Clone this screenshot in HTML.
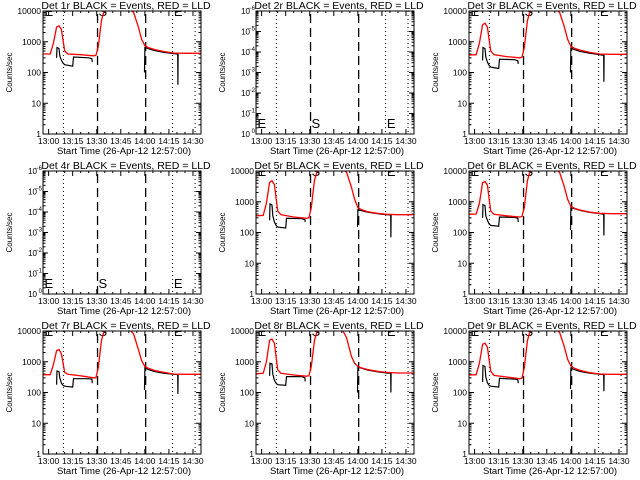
<!DOCTYPE html>
<html><head><meta charset="utf-8">
<style>
html,body{margin:0;padding:0;background:#fff;}
svg{display:block;font-family:"Liberation Sans",sans-serif;}
</style></head>
<body>
<svg id="chart" width="640" height="480" viewBox="0 0 640 480" xmlns="http://www.w3.org/2000/svg"></svg>
<script>
// ---- data ----
const detectorNames = ["1r","2r","3r","4r","5r","6r","7r","8r","9r"];
const xTickMinutes = [0,15,30,45,60,75,90];
const xTickLabels = ["13:00","13:15","13:30","13:45","14:00","14:15","14:30"];
const yTickValuesA = [1,10,100,1000,10000];
const yTickLabelsA = ["1","10","100","1000","10000"];
const yTickExpB = [0,-1,-2,-3,-4,-5,-6];
const dottedMinutes = [9.2,77.3,91.3];
const dashedMinutes = [30.5,60.5];
const redTimes = [-3.5,1,3,5,6.5,8,10,12,20,28,29.5,31,33,35,50,53,56,58,60,62,66,72,78,85,95];
const red1 = [400,400,900,3000,3300,2500,500,400,380,350,360,700,5000,12000,12000,9000,3000,1200,750,650,560,480,430,420,420];
const red3 = [370,380,900,3600,4000,3000,500,380,330,300,310,650,5000,12000,12000,9000,3000,1200,700,620,530,450,400,390,390];
const red5 = [350,360,900,4300,4800,3600,500,380,320,290,300,650,5000,12000,12000,9000,3000,1200,650,560,480,420,390,380,380];
const red6 = [390,400,900,4200,4500,3500,500,390,350,320,330,650,5000,12000,12000,9000,3000,1200,700,620,530,460,420,410,410];
const red7 = [380,380,800,2300,2500,1800,450,390,350,300,300,650,5000,12000,12000,8000,2500,1100,700,620,520,450,400,390,390];
const red8 = [410,420,1000,5000,5500,4000,550,420,370,340,350,700,5000,12000,12000,6000,1500,900,700,640,560,490,450,430,430];
const red9 = [370,380,900,3700,4000,3000,500,360,320,280,290,650,5000,12000,12000,9000,3000,1200,720,620,520,440,400,390,390];
const blackTimes = [5,5.2,6.5,7,8,9,10,15,15.5,25,27,27.2,null,59.8,60,62,66,72,78,80.5,80.6,80.7,81];
const black1 = [300,650,600,350,250,200,180,160,320,300,280,220,null,100,650,600,520,450,410,400,40,400,400];
const black3 = [250,650,600,320,220,170,150,135,270,260,240,190,null,100,620,560,480,420,380,360,50,360,360];
const black5 = [250,850,780,350,220,170,150,140,290,280,260,220,null,150,560,520,460,410,380,370,70,370,370];
const black6 = [300,800,750,350,250,190,170,160,320,310,290,220,null,120,650,600,520,450,410,390,80,390,390];
const black7 = [180,500,480,300,200,170,160,150,280,280,270,200,null,120,650,560,480,420,390,380,90,380,380];
const black8 = [350,900,850,400,250,200,180,170,330,330,300,230,null,100,680,620,540,470,430,420,100,420,420];
const black9 = [220,750,700,320,210,170,160,150,290,270,260,200,null,130,620,560,480,420,390,380,110,380,380];
const redSeries = [red1,null,red3,null,red5,red6,red7,red8,red9];
const blackSeries = [black1,null,black3,null,black5,black6,black7,black8,black9];

// ---- drawing ----
const NS="http://www.w3.org/2000/svg";
const svg=document.getElementById('chart');
function mk(tag,attrs,parent){const e=document.createElementNS(NS,tag);for(const k in attrs)e.setAttribute(k,attrs[k]);(parent||svg).appendChild(e);return e;}
const W=158,H=123,XMIN=-3.5,XMAX=95;
for(let p=0;p<9;p++){
  const col=p%3,row=Math.floor(p/3);
  const L=43+col*213,T=11+row*160;
  const empty = redSeries[p]===null;
  const g=mk('g',{});
  
  
  const xs=m=>L+(m-XMIN)/(XMAX-XMIN)*W;
  const ys = v=>T+H-Math.log10(v)/4*H;
  const cid='clip'+p;
  const cp=mk('clipPath',{id:cid},g);mk('rect',{x:L,y:T,width:W,height:H},cp);
  const t=mk('text',{x:L+W/2+4,y:T-2,'font-size':'10.5','text-anchor':'middle'},g);
  t.textContent='Det '+detectorNames[p]+' BLACK = Events, RED = LLD';
  
  
  const yt=mk('text',{x:0,y:0,'font-size':'8','text-anchor':'middle',transform:`translate(${L-31},${T+H/2}) rotate(-90)`},g);
  yt.textContent='Counts/sec';
  
  
  const xt=mk('text',{x:L+W/2+2,y:T+H+20,'font-size':'9.5','text-anchor':'middle'},g);
  xt.textContent='Start Time (26-Apr-12 12:57:00)';
  
  
  xTickMinutes.forEach((m,i)=>{
    const x=xs(m);
    mk('line',{x1:x,y1:T+H,x2:x,y2:T+H-5,stroke:'#000'},g);
    mk('line',{x1:x,y1:T,x2:x,y2:T+5,stroke:'#000'},g);
    const lb=mk('text',{x:x,y:T+H+10,'font-size':'8.5','text-anchor':'middle'},g);
    lb.textContent=xTickLabels[i];
    
    
  });
  for(let m=0;m<=95;m+=5){if(m%15){const x=xs(m);mk('line',{x1:x,y1:T+H,x2:x,y2:T+H-2,stroke:'#000'},g);mk('line',{x1:x,y1:T,x2:x,y2:T+2,stroke:'#000'},g);}}
  if(!empty){
    yTickValuesA.forEach((v,i)=>{
      const y=ys(v);
      mk('line',{x1:L,y1:y,x2:L+5,y2:y,stroke:'#000'},g);
      mk('line',{x1:L+W,y1:y,x2:L+W-5,y2:y,stroke:'#000'},g);
      const lb=mk('text',{x:L-2,y:y+3,'font-size':'8.5','text-anchor':'end'},g);
      lb.textContent=yTickLabelsA[i];
      
      
      if(i<yTickValuesA.length-1)for(let k=2;k<10;k++){const yy=ys(v*k);mk('line',{x1:L,y1:yy,x2:L+2.5,y2:yy,stroke:'#000'},g);mk('line',{x1:L+W,y1:yy,x2:L+W-2.5,y2:yy,stroke:'#000'},g);}
    });
  } else {
    yTickExpB.forEach((e,i)=>{
      const y=T+H-i/6*H;
      mk('line',{x1:L,y1:y,x2:L+5,y2:y,stroke:'#000'},g);
      mk('line',{x1:L+W,y1:y,x2:L+W-5,y2:y,stroke:'#000'},g);
      const lb=mk('text',{x:L-6,y:y+3,'font-size':'8','text-anchor':'end'},g);
      lb.textContent='10';
      
      
      const sp=mk('text',{x:L-1,y:y-1,'font-size':'6','text-anchor':'end'},g);
      sp.textContent=(e<0?'\u2212':'')+Math.abs(e);
      
      
      if(i<yTickExpB.length-1)for(let k=2;k<10;k++){const yy=y-Math.log10(k)*H/6;mk('line',{x1:L,y1:yy,x2:L+2.5,y2:yy,stroke:'#000'},g);mk('line',{x1:L+W,y1:yy,x2:L+W-2.5,y2:yy,stroke:'#000'},g);}
    });
  }
  dottedMinutes.forEach(m=>{const l=mk('line',{x1:xs(m),y1:T,x2:xs(m),y2:T+H,stroke:'#000','stroke-dasharray':'1,3'},g);});
  dashedMinutes.forEach(m=>{const l=mk('line',{x1:xs(m),y1:T+3,x2:xs(m),y2:T+H,stroke:'#000','stroke-width':'1.3','stroke-dasharray':'9,5'},g);});
  const cg=mk('g',{'clip-path':`url(#${cid})`},g);
  const letterX=[XMIN+0.3,30.5,77.5],letters=['E','S','E'];
  letters.forEach((c,i)=>{
    const lt=mk('text',{x:xs(letterX[i])+1,y:empty?T+H-6:T+5,'font-size':'13'},cg);
    lt.textContent=c;
    
    
  });
  if(!empty){
    let d='',pen=false;
    blackTimes.forEach((m,i)=>{const v=blackSeries[p][i];if(m===null||v===null){pen=false;return;}d+=(pen?'L':'M')+xs(m).toFixed(1)+','+ys(v).toFixed(1);pen=true;});
    const bl=mk('path',{d:d,fill:'none',stroke:'#000','stroke-width':'1.2'},cg);
    
    
    let d2='';
    redTimes.forEach((m,i)=>{d2+=(i?'L':'M')+xs(m).toFixed(1)+','+ys(redSeries[p][i]).toFixed(1);});
    const rl=mk('path',{d:d2,fill:'none',stroke:'#f00','stroke-width':'1.3'},cg);
    
    
  }
  const fr=mk('rect',{x:L,y:T,width:W,height:H,fill:'none',stroke:'#000','stroke-width':'1'},g);
  
  
}
</script>
</body></html>
